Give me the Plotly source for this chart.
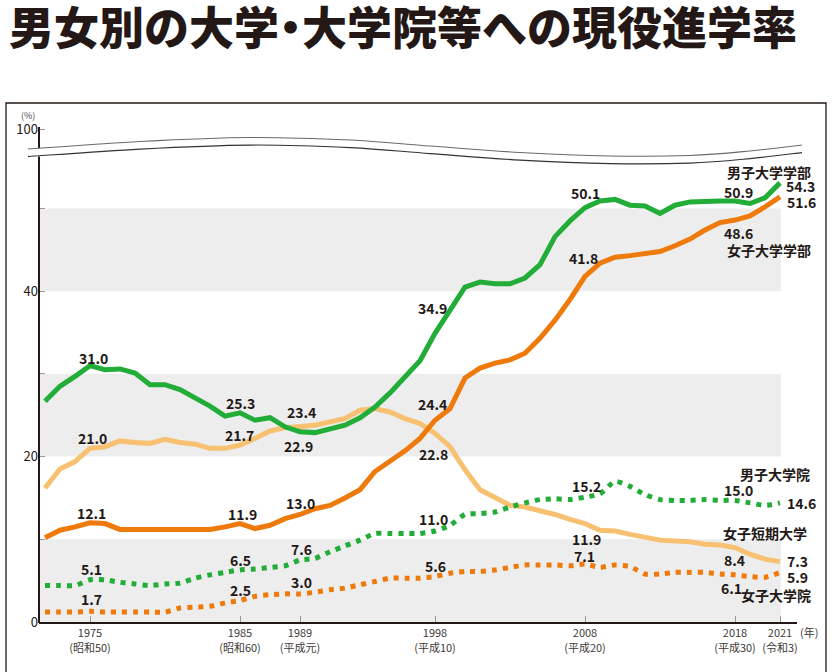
import plotly.graph_objects as go

# ---------------- data ----------------
years = list(range(1972, 2022))

male_undergrad = [26.7, 28.5, 29.7, 31.0, 30.5, 30.6, 30.1, 28.7, 28.7, 28.1,
                  27.1, 26.1, 24.9, 25.3, 24.4, 24.7, 23.6, 23.0, 22.9, 23.3,
                  23.8, 24.7, 26.0, 27.7, 29.7, 31.6, 34.9, 37.7, 40.5, 41.1,
                  40.9, 40.9, 41.6, 43.2, 46.6, 48.5, 50.1, 50.9, 51.1, 50.4,
                  50.3, 49.4, 50.4, 50.8, 50.9, 50.9, 50.9, 50.6, 51.3, 53.1]

female_undergrad = [10.2, 11.1, 11.5, 12.0, 11.9, 11.2, 11.2, 11.2, 11.2, 11.1,
                    11.1, 11.2, 11.5, 11.9, 11.3, 11.7, 12.5, 13.0, 13.7, 14.1,
                    15.0, 16.0, 18.2, 19.5, 20.7, 22.2, 24.4, 25.8, 29.5, 30.7,
                    31.3, 31.7, 32.5, 34.3, 36.5, 39.0, 41.8, 43.4, 44.1, 44.3,
                    44.5, 44.8, 45.5, 46.3, 47.4, 48.3, 48.6, 49.1, 50.2, 51.4]

female_junior_college = [16.2, 18.5, 19.4, 21.0, 21.2, 21.9, 21.7, 21.6, 22.1, 21.7,
                         21.5, 21.0, 21.0, 21.4, 22.2, 23.1, 23.5, 23.6, 23.8, 24.2,
                         24.6, 25.6, 25.8, 25.4, 24.6, 24.0, 22.8, 21.2, 18.4, 16.0,
                         15.0, 14.1, 13.9, 13.5, 13.0, 12.4, 11.9, 11.1, 11.0, 10.6,
                         10.2, 9.9, 9.8, 9.7, 9.4, 9.3, 9.0, 8.2, 7.6, 7.3]

male_grad = [4.4, 4.4, 4.4, 5.1, 5.1, 4.8, 4.6, 4.4, 4.6, 4.7,
             5.3, 5.7, 6.0, 6.3, 6.4, 6.6, 6.8, 7.5, 7.7, 8.5,
             9.2, 9.9, 10.7, 10.7, 10.7, 10.7, 11.0, 11.7, 13.0, 13.1,
             13.3, 13.9, 14.4, 14.8, 14.9, 14.8, 15.1, 15.5, 17.0, 16.4,
             15.4, 14.8, 14.7, 14.7, 14.8, 14.7, 14.7, 14.4, 14.1, 14.4]

female_grad = [1.2, 1.2, 1.2, 1.3, 1.2, 1.2, 1.2, 1.2, 1.2, 1.7,
               1.8, 1.9, 2.3, 2.6, 3.1, 3.3, 3.4, 3.4, 3.6, 3.9,
               4.1, 4.5, 4.9, 5.3, 5.3, 5.3, 5.5, 5.9, 6.1, 6.1,
               6.3, 6.6, 6.9, 6.9, 6.9, 6.8, 7.0, 6.6, 6.9, 6.7,
               5.8, 5.8, 6.0, 6.0, 6.0, 5.8, 5.7, 5.5, 5.4, 6.0]

series_names = ["男子大学学部", "女子大学学部", "女子短期大学", "男子大学院", "女子大学院"]

tick_years = [1975, 1985, 1989, 1998, 2008, 2018, 2021]
tick_eras = ["(昭和50)", "(昭和60)", "(平成元)", "(平成10)", "(平成20)", "(平成30)", "(令和3)"]

y_tick_labels = ["0", "", "20", "", "40", "", "100"]

title_parts = ["男女別の大", "学・", "大学院等への現役進学率"]

# value labels: (series key, year, text)
value_labels = [
    ("mu", 1975, "31.0"), ("mu", 1985, "25.3"), ("mu", 1989, "22.9"), ("mu", 1998, "34.9"),
    ("mu", 2008, "50.1"), ("mu", 2018, "50.9"), ("mu", 2021, "54.3"),
    ("fu", 1975, "12.1"), ("fu", 1985, "11.9"), ("fu", 1989, "13.0"), ("fu", 1998, "24.4"),
    ("fu", 2008, "41.8"), ("fu", 2018, "48.6"), ("fu", 2021, "51.6"),
    ("jc", 1975, "21.0"), ("jc", 1985, "21.7"), ("jc", 1989, "23.4"), ("jc", 1998, "22.8"),
    ("jc", 2008, "11.9"), ("jc", 2018, "8.4"), ("jc", 2021, "7.3"),
    ("mg", 1975, "5.1"), ("mg", 1985, "6.5"), ("mg", 1989, "7.6"), ("mg", 1998, "11.0"),
    ("mg", 2008, "15.2"), ("mg", 2018, "15.0"), ("mg", 2021, "14.6"),
    ("fg", 1975, "1.7"), ("fg", 1985, "2.5"), ("fg", 1989, "3.0"), ("fg", 1998, "5.6"),
    ("fg", 2008, "7.1"), ("fg", 2018, "6.1"), ("fg", 2021, "5.9"),
]

# ---------------- styling / layout ----------------
W, H = 833, 672
L, R, T, B = 39, 36, 118, 50
PW, PH = W - L - R, H - T - B
PX_PER_UNIT = 8.27
Y_TOP = PH / PX_PER_UNIT
Y_100_POS = (H - B - 129.3) / PX_PER_UNIT
X_RANGE = [1971.6, 2022.133]

INK = "#231815"
GREEN = "#22AC38"
ORANGE = "#EE7A0C"
PEACH = "#F8C172"
BAND = "#EDEDED"
FONT = "Noto Sans CJK JP"

data = {
    "mu": (male_undergrad, GREEN, "solid"),
    "fu": (female_undergrad, ORANGE, "solid"),
    "jc": (female_junior_college, PEACH, "solid"),
    "mg": (male_grad, GREEN, "5px,6px"),
    "fg": (female_grad, ORANGE, "5px,6px"),
}

# label offsets (xshift, yshift, anchor) in order of value_labels
label_offsets = [
    (3, 7.6, "center"), (0, 10, "center"), (-2, -14, "center"), (-3, 25, "center"),
    (0, 14.4, "center"), (3, 9.3, "center"), (4, -2.8, "left"),
    (1, 10, "center"), (2, 9.3, "center"), (0, 11.8, "center"), (-3, 16, "center"),
    (-2, 18.6, "center"), (3, -13.2, "center"), (5, -5, "left"),
    (2, 10, "center"), (-1, 10, "center"), (1, 15, "center"), (-2, -20.6, "center"),
    (1, -15.7, "center"), (-1, -12.4, "center"), (5, 1, "left"),
    (1, 10.5, "center"), (0, 10, "center"), (1, 11, "center"), (-2, 12, "center"),
    (1, 11.4, "center"), (3, 10, "center"), (5, 0, "left"),
    (1, 12, "center"), (0, 10.5, "center"), (1, 12.2, "center"), (0, 10.8, "center"),
    (-1, 8.4, "center"), (-4, -12.8, "center"), (5, -4.6, "left"),
]

name_offsets = {  # series key -> (xshift, yshift) from its 2021 point, right-anchored
    "mu": (33, 11.2), "fu": (33, -53), "mg": (32, 29), "jc": (29, 28.3), "fg": (33, -23),
}
name_for_key = dict(zip(["mu", "fu", "jc", "mg", "fg"], series_names))

fig = go.Figure()

for key in ["jc", "fg", "mg", "fu", "mu"]:
    vals, color, dash = data[key]
    fig.add_trace(go.Scatter(
        x=years, y=vals, mode="lines", name=name_for_key[key],
        line=dict(color=color, width=5, dash=dash,
                  shape="spline" if dash != "solid" else "linear", smoothing=0.6),
        hoverinfo="skip",
    ))

annotations = []
for (key, yr, txt), (dx, dy, anc) in zip(value_labels, label_offsets):
    vals = data[key][0]
    annotations.append(dict(
        x=yr, y=vals[years.index(yr)], xref="x", yref="y", text=txt, showarrow=False,
        xanchor=anc, yanchor="middle", xshift=dx, yshift=dy,
        font=dict(family=FONT, size=14, color=INK, weight="bold"),
    ))
for key, (dx, dy) in name_offsets.items():
    vals = data[key][0]
    annotations.append(dict(
        x=years[-1], y=vals[-1], xref="x", yref="y", text=name_for_key[key], showarrow=False,
        xanchor="right", yanchor="middle", xshift=dx, yshift=dy,
        font=dict(family=FONT, size=14, color=INK, weight="bold"),
    ))


def to_paper(px, py):
    return (px - L) / PW, (H - B - py) / PH


# small unit labels
ux, uy = to_paper(28, 115)
annotations.append(dict(x=ux, y=uy, xref="paper", yref="paper", text="(%)", showarrow=False,
                        xanchor="center", yanchor="middle",
                        font=dict(family=FONT, size=9, color="#4a4a4a")))
nx, ny = to_paper(809, 632)
annotations.append(dict(x=nx, y=ny, xref="paper", yref="paper", text="(年)", showarrow=False,
                        xanchor="center", yanchor="middle",
                        font=dict(family=FONT, size=11, color="#3e3a39")))

shapes = []
# gray bands
for lo in (0, 20, 40):
    shapes.append(dict(type="rect", xref="paper", yref="y", x0=0, x1=(780.8 - L) / PW,
                       y0=lo, y1=lo + 10, fillcolor=BAND, line=dict(width=0), layer="below"))

# outer frame
fx0, fy1 = to_paper(6, 103)
fx1, fy0 = to_paper(826, 700)
shapes.append(dict(type="rect", xref="paper", yref="paper", x0=fx0, x1=fx1, y0=fy0, y1=fy1,
                   line=dict(color=INK, width=1.3), fillcolor="rgba(0,0,0,0)", layer="above"))


# axis break curves
def smooth_path(pts):
    s = "M {:.5f},{:.5f}".format(*to_paper(*pts[0]))
    for i in range(len(pts) - 1):
        p0 = pts[i - 1] if i > 0 else pts[i]
        p1, p2 = pts[i], pts[i + 1]
        p3 = pts[i + 2] if i + 2 < len(pts) else pts[i + 1]
        c1 = (p1[0] + (p2[0] - p0[0]) / 6, p1[1] + (p2[1] - p0[1]) / 6)
        c2 = (p2[0] - (p3[0] - p1[0]) / 6, p2[1] - (p3[1] - p1[1]) / 6)
        a, b_, c = to_paper(*c1), to_paper(*c2), to_paper(*p2)
        s += " C {:.5f},{:.5f} {:.5f},{:.5f} {:.5f},{:.5f}".format(*a, *b_, *c)
    return s


upper = [(28, 149), (140, 141.5), (250, 137.5), (350, 140), (430, 146), (520, 152.5),
         (610, 156), (690, 155.5), (750, 151), (802, 145)]
lower = [(x, y + 7.6) for x, y in upper]

# y-axis line drawn in two parts (broken)
ax0 = to_paper(39, 622)
shapes.append(dict(type="line", xref="paper", yref="paper", x0=ax0[0], x1=ax0[0],
                   y0=ax0[1] - 1 / PH, y1=to_paper(39, 156.5)[1], line=dict(color=INK, width=2),
                   layer="above"))
shapes.append(dict(type="line", xref="paper", yref="paper", x0=ax0[0], x1=ax0[0],
                   y0=to_paper(39, 148)[1], y1=to_paper(39, 127)[1], line=dict(color=INK, width=2),
                   layer="above"))
for pts, col in ((upper, "#6a6a6a"), (lower, "#333333")):
    shapes.append(dict(type="path", xref="paper", yref="paper", path=smooth_path(pts),
                       line=dict(color=col, width=1.1), layer="above"))

title_text = (title_parts[0]
              + '<span style="letter-spacing:-11px">' + title_parts[1] + "</span>"
              + title_parts[2])

fig.update_layout(
    width=W, height=H,
    margin=dict(l=L, r=R, t=T, b=B),
    paper_bgcolor="white", plot_bgcolor="white",
    showlegend=False,
    title=dict(text=title_text, x=9 / W, xanchor="left",
               y=1 - 29 / H, yanchor="middle", yref="container",
               font=dict(family=FONT, size=45, color=INK, weight=900)),
    xaxis=dict(range=X_RANGE, tickvals=tick_years,
               ticktext=[f"{y}<br>{e}" for y, e in zip(tick_years, tick_eras)],
               ticks="inside", ticklen=6, tickcolor="#999999", tickwidth=1,
               showline=True, linecolor=INK, linewidth=2, showgrid=False, zeroline=False,
               tickfont=dict(family=FONT, size=11, color="#3e3a39")),
    yaxis=dict(range=[0, Y_TOP], tickvals=[0, 10, 20, 30, 40, 50, Y_100_POS],
               ticktext=y_tick_labels, ticks="inside", ticklen=6, tickcolor="#999999",
               tickwidth=1, showline=False, showgrid=False, zeroline=False,
               tickfont=dict(family=FONT, size=13, color=INK)),
    annotations=annotations,
    shapes=shapes,
)

fig.write_html("out.html", config={"displayModeBar": False},
               post_script="document.body.style.margin='0';")
